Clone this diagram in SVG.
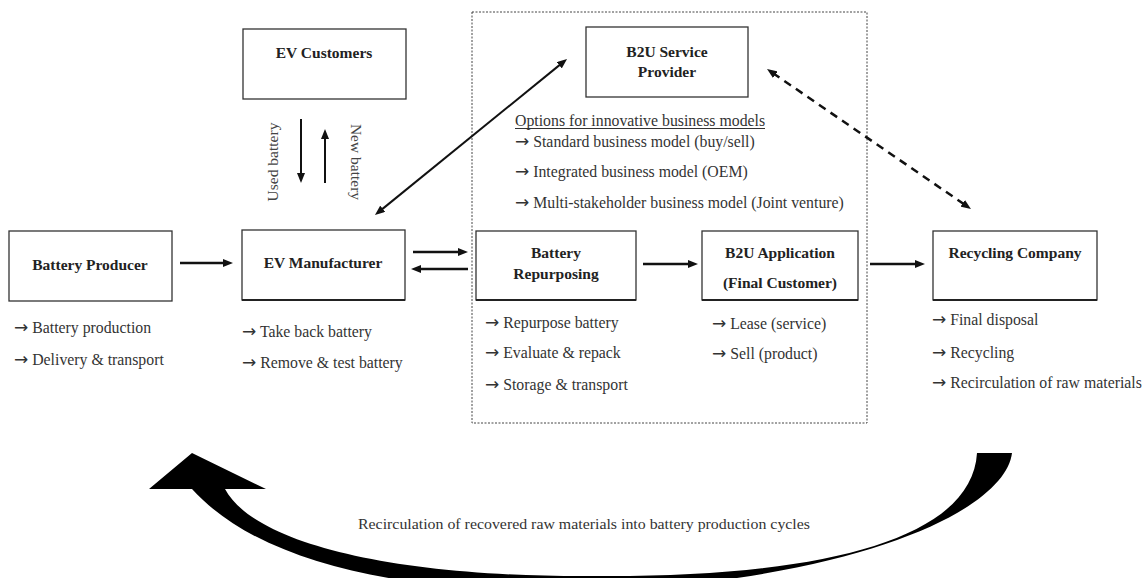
<svg xmlns="http://www.w3.org/2000/svg" width="1148" height="578" viewBox="0 0 1148 578">
<style>
.box{fill:#fff;stroke:#333;stroke-width:1.3}
.base{stroke:#222;stroke-width:2}
.t{font-family:"Liberation Serif","Times New Roman",serif;font-weight:bold;font-size:15.5px;fill:#222;text-anchor:middle}
.b{font-family:"Liberation Serif","Times New Roman",serif;font-size:15.8px;fill:#333}
.a{font-family:"DejaVu Sans",sans-serif;font-size:17px}
.v{font-family:"Liberation Serif","Times New Roman",serif;font-size:15.5px;fill:#444;text-anchor:middle}
.ar{fill:none;stroke:#111;stroke-width:2.5}
.thin{fill:none;stroke:#111;stroke-width:2}
.dash{fill:none;stroke:#111;stroke-width:2.5;stroke-dasharray:8 6}
</style>
<defs>
<marker id="ah" markerUnits="userSpaceOnUse" markerWidth="10" markerHeight="8" refX="3" refY="4" orient="auto-start-reverse" viewBox="0 0 10 8">
<path d="M0,0 L10,4 L0,8 z" fill="#111"/>
</marker>
</defs>
<rect id="container" x="472" y="12" width="395" height="411" fill="none" stroke="#444" stroke-width="1" stroke-dasharray="2 1.5"/>

<g id="battery-producer">
<rect class="box" x="9" y="231" width="163" height="70"/>
<text class="t" x="90" y="270">Battery Producer</text>
<text class="b" x="14" y="333"><tspan class="a">→</tspan> Battery production</text>
<text class="b" x="14" y="365"><tspan class="a">→</tspan> Delivery &amp; transport</text>
</g>
<g id="ev-manufacturer">
<rect class="box" x="242" y="230" width="163" height="70"/>
<line class="base" x1="242" y1="300" x2="405" y2="300"/>
<text class="t" x="323" y="268">EV Manufacturer</text>
<text class="b" x="242" y="337"><tspan class="a">→</tspan> Take back battery</text>
<text class="b" x="242" y="368"><tspan class="a">→</tspan> Remove &amp; test battery</text>
</g>
<g id="ev-customers">
<rect class="box" x="243" y="29" width="163" height="70"/>
<text class="t" x="324" y="58">EV Customers</text>
</g>
<g id="b2u-service-provider">
<rect class="box" x="586" y="27" width="162" height="70"/>
<text class="t" x="667" y="57">B2U Service</text>
<text class="t" x="667" y="77">Provider</text>
<text class="b" x="515" y="126">Options for innovative business models</text>
<line x1="515" y1="128.5" x2="765" y2="128.5" stroke="#333" stroke-width="1"/>
<text class="b" x="515" y="147"><tspan class="a">→</tspan> Standard business model (buy/sell)</text>
<text class="b" x="515" y="177"><tspan class="a">→</tspan> Integrated business model (OEM)</text>
<text class="b" x="515" y="208"><tspan class="a">→</tspan> Multi-stakeholder business model (Joint venture)</text>
</g>
<g id="battery-repurposing">
<rect class="box" x="476" y="231" width="160" height="69"/>
<line class="base" x1="476" y1="300" x2="636" y2="300"/>
<text class="t" x="556" y="258">Battery</text>
<text class="t" x="556" y="279">Repurposing</text>
<text class="b" x="485" y="328"><tspan class="a">→</tspan> Repurpose battery</text>
<text class="b" x="485" y="358"><tspan class="a">→</tspan> Evaluate &amp; repack</text>
<text class="b" x="485" y="390"><tspan class="a">→</tspan> Storage &amp; transport</text>
</g>
<g id="b2u-application">
<rect class="box" x="702" y="231" width="156" height="69"/>
<line class="base" x1="702" y1="300" x2="858" y2="300"/>
<text class="t" x="780" y="258">B2U Application</text>
<text class="t" x="780" y="288">(Final Customer)</text>
<text class="b" x="712" y="329"><tspan class="a">→</tspan> Lease (service)</text>
<text class="b" x="712" y="359"><tspan class="a">→</tspan> Sell (product)</text>
</g>
<g id="recycling-company">
<rect class="box" x="933" y="231" width="164" height="69"/>
<line class="base" x1="933" y1="300" x2="1097" y2="300"/>
<text class="t" x="1015" y="258">Recycling Company</text>
<text class="b" x="932" y="325"><tspan class="a">→</tspan> Final disposal</text>
<text class="b" x="932" y="358"><tspan class="a">→</tspan> Recycling</text>
<text class="b" x="932" y="388"><tspan class="a">→</tspan> Recirculation of raw materials</text>
</g>

<g id="connectors">
<line class="ar" x1="180" y1="263" x2="226" y2="263" marker-end="url(#ah)"/>
<line class="ar" x1="413" y1="252" x2="461" y2="252" marker-end="url(#ah)"/>
<line class="ar" x1="468" y1="269" x2="418" y2="269" marker-end="url(#ah)"/>
<line class="ar" x1="643" y1="264" x2="691" y2="264" marker-end="url(#ah)"/>
<line class="ar" x1="870" y1="264" x2="918" y2="264" marker-end="url(#ah)"/>
<line class="thin" x1="301" y1="119" x2="301" y2="176" marker-end="url(#ah)"/>
<line class="thin" x1="325" y1="183" x2="325" y2="136" marker-end="url(#ah)"/>
<text class="v" transform="translate(273,162) rotate(-90)" x="0" y="5">Used battery</text>
<text class="v" transform="translate(356,162) rotate(90)" x="0" y="5">New battery</text>
<line class="thin" x1="380.4" y1="210.6" x2="561.6" y2="63.4" marker-start="url(#ah)" marker-end="url(#ah)"/>
<line class="dash" x1="772.8" y1="73" x2="965.2" y2="205" marker-start="url(#ah)" marker-end="url(#ah)"/>
<path id="recirculation-arrow" fill="#000" d="M977,453 L1012,453 C1006,505 880,575 600,592 C440,594 270,575 192,489 L149,489 L192,453 L266,489 L225,489 C255,545 400,578 600,576 C820,577 972,540 977,453 Z"/>
<text class="b" x="584" y="529" text-anchor="middle" textLength="452" lengthAdjust="spacingAndGlyphs" style="font-size:15px">Recirculation of recovered raw materials into battery production cycles</text>
</g>
</svg>
